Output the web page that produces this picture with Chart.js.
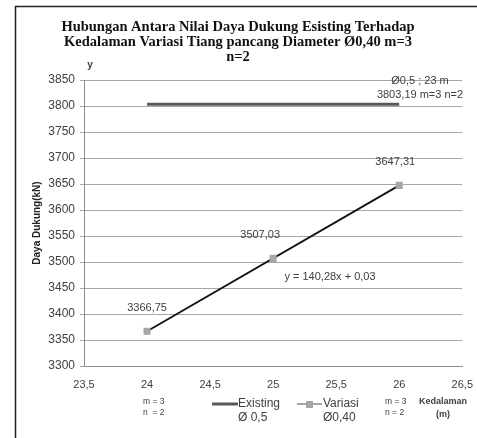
<!DOCTYPE html>
<html>
<head>
<meta charset="utf-8">
<script src="https://cdn.jsdelivr.net/npm/chart.js@4.4.1/dist/chart.umd.min.js"></script>
<style>
  html, body { margin: 0; padding: 0; background: #fff; }
  #wrap { width: 477px; height: 438px; position: relative; }
</style>
</head>
<body>
<div id="wrap"><canvas id="grafico" width="477" height="438"></canvas></div>
<script>
// datos
const judul = ['Hubungan Antara Nilai Daya Dukung Esisting Terhadap', 'Kedalaman Variasi Tiang pancang Diameter Ø0,40 m=3', 'n=2'];
const existingX = [24, 26];
const existingY = [3803.19, 3803.19];
const variasiX = [24, 25, 26];
const variasiY = [3366.75, 3507.03, 3647.31];
const trendX = [24, 26];
const trendY = [3366.75, 3647.31];
const labelVariasi = ['3366,75', '3507,03', '3647,31'];
const yMin = 3300, yMax = 3850, yStep = 50;
const xMin = 23.5, xMax = 26.5, xStep = 0.5;

const fontSans = '"Liberation Sans", Arial, sans-serif';
const textColor = '#404040';

function toPoints(xs, ys) {
  return xs.map((x, i) => ({ x: x, y: ys[i] }));
}

// plugin para textos, marco y leyenda
const anotaciones = {
  id: 'anotaciones',
  beforeDraw(chart) {
    const ctx = chart.ctx;
    ctx.save();
    ctx.fillStyle = '#fff';
    ctx.fillRect(0, 0, chart.width, chart.height);
    ctx.strokeStyle = '#222';
    ctx.lineWidth = 1.5;
    ctx.beginPath();
    ctx.moveTo(15.5, 440);
    ctx.lineTo(15.5, 6.5);
    ctx.lineTo(477, 6.5);
    ctx.stroke();
    ctx.restore();
  },
  afterDraw(chart) {
    const ctx = chart.ctx;
    const xs = chart.scales.x, ys = chart.scales.y;
    ctx.save();

    // titulo
    ctx.fillStyle = '#111';
    ctx.font = 'bold 14.5px "Liberation Serif", "Times New Roman", serif';
    ctx.textAlign = 'center';
    ctx.textBaseline = 'alphabetic';
    judul.forEach((t, i) => ctx.fillText(t, 238, 31 + i * 15));

    // etiqueta y
    ctx.fillStyle = textColor;
    ctx.font = 'bold 10px ' + fontSans;
    ctx.textBaseline = 'middle';
    ctx.fillText('y', 90, 65);

    // titulo eje y
    ctx.save();
    ctx.translate(37, 223);
    ctx.rotate(-Math.PI / 2);
    ctx.fillStyle = '#222';
    ctx.font = 'bold 10px ' + fontSans;
    ctx.fillText('Daya Dukung(kN)', 0, 0);
    ctx.restore();

    // etiquetas de datos
    ctx.fillStyle = textColor;
    ctx.font = '11px ' + fontSans;
    const offX = [0, -13, -4];
    variasiX.forEach((x, i) => {
      ctx.fillText(labelVariasi[i], xs.getPixelForValue(x) + offX[i], ys.getPixelForValue(variasiY[i]) - 23);
    });
    ctx.fillText('y = 140,28x + 0,03', 330, 277);
    ctx.fillText('Ø0,5 ; 23 m', 420, 81);
    ctx.fillText('3803,19 m=3 n=2', 420, 95);

    // leyenda
    ctx.font = '8.5px ' + fontSans;
    ctx.textAlign = 'left';
    ctx.fillText('m = 3', 143, 402);
    ctx.fillText('n  = 2', 143, 413);
    ctx.fillText('m = 3', 385, 402);
    ctx.fillText('n = 2', 385, 413);

    ctx.strokeStyle = '#595959';
    ctx.lineWidth = 3;
    ctx.beginPath(); ctx.moveTo(212, 404); ctx.lineTo(238, 404); ctx.stroke();
    ctx.strokeStyle = '#a6a6a6';
    ctx.lineWidth = 2;
    ctx.beginPath(); ctx.moveTo(297, 404); ctx.lineTo(322, 404); ctx.stroke();
    ctx.fillStyle = '#a6a6a6';
    ctx.fillRect(306, 401, 7, 7);

    ctx.fillStyle = textColor;
    ctx.font = '12px ' + fontSans;
    ctx.fillText('Existing', 238, 404);
    ctx.fillText('Ø 0,5', 238, 418);
    ctx.fillText('Variasi', 323, 404);
    ctx.fillText('Ø0,40', 323, 418);

    ctx.font = 'bold 9px ' + fontSans;
    ctx.textAlign = 'center';
    ctx.fillText('Kedalaman', 443, 402);
    ctx.fillText('(m)', 443, 415);
    ctx.restore();
  }
};

const ctx = document.getElementById('grafico').getContext('2d');
new Chart(ctx, {
  type: 'scatter',
  data: {
    datasets: [
      {
        label: 'Existing Ø 0,5',
        data: toPoints(existingX, existingY),
        showLine: true,
        borderColor: '#595959',
        borderWidth: 3,
        pointRadius: 0
      },
      {
        label: 'Variasi Ø0,40',
        data: toPoints(variasiX, variasiY),
        showLine: false,
        pointStyle: 'rect',
        pointRadius: 5,
        backgroundColor: '#a6a6a6',
        borderColor: '#a6a6a6',
        borderWidth: 0
      },
      {
        label: 'Trend',
        data: toPoints(trendX, trendY),
        showLine: true,
        borderColor: '#111',
        borderWidth: 1.8,
        pointRadius: 0
      }
    ]
  },
  options: {
    responsive: false,
    animation: false,
    layout: { padding: { top: 80, right: 14, left: 0, bottom: 0 } },
    plugins: { legend: { display: false }, tooltip: { enabled: false } },
    scales: {
      x: {
        type: 'linear',
        min: xMin, max: xMax,
        afterFit: s => { s.height = 72; },
        afterBuildTicks: s => {
          s.ticks = [];
          for (let v = xMin; v <= xMax + 1e-9; v += xStep) s.ticks.push({ value: v });
        },
        ticks: {
          color: textColor,
          font: { family: fontSans, size: 11 },
          padding: 4,
          maxRotation: 0,
          callback: v => String(v).replace('.', ',')
        },
        grid: { display: false },
        border: { display: true, color: '#8c8c8c', width: 1 }
      },
      y: {
        min: yMin, max: yMax,
        afterFit: s => { s.width = 84; },
        ticks: {
          stepSize: yStep,
          color: textColor,
          font: { family: fontSans, size: 12 },
          padding: 5,
          callback: v => String(v)
        },
        grid: { color: '#a6a6a6', lineWidth: 1, tickLength: 4 },
        border: { display: true, color: '#8c8c8c', width: 1 }
      }
    }
  },
  plugins: [anotaciones]
});
</script>
</body>
</html>
